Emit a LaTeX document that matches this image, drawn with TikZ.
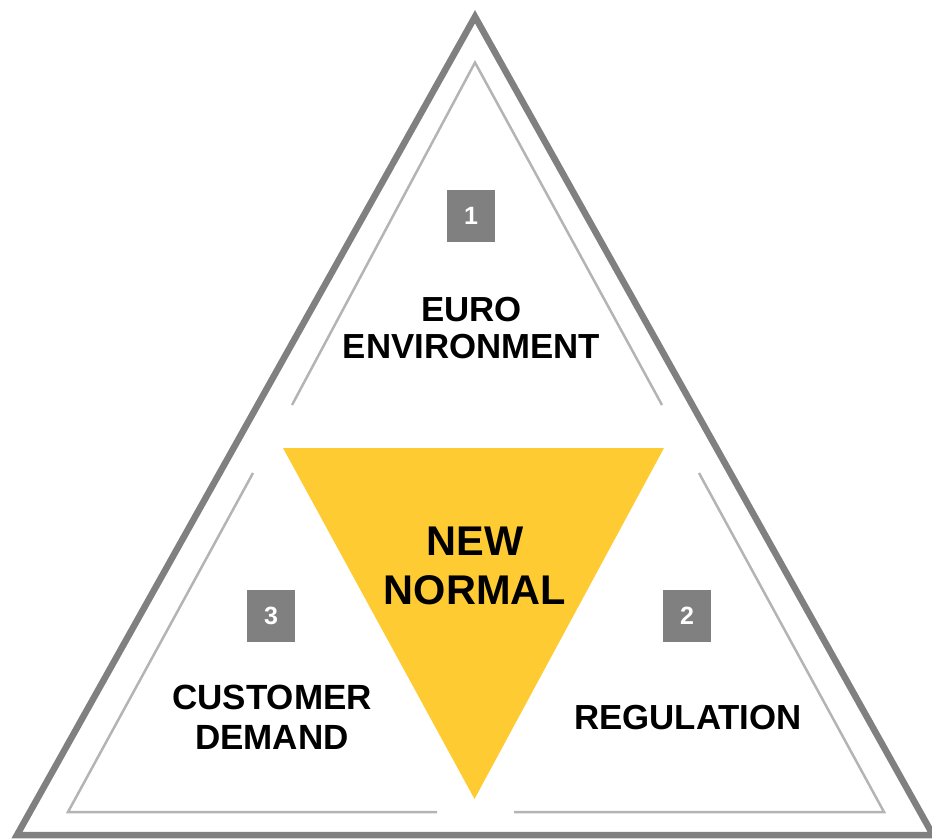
\documentclass[tikz,border=0pt]{standalone}
\usepackage{fontspec}
\setmainfont{Liberation Sans}
\definecolor{outergray}{HTML}{808080}
\definecolor{innergray}{HTML}{B4B4B4}
\definecolor{boxgray}{HTML}{808080}
\definecolor{newyellow}{HTML}{FFCB33}
\begin{document}
\begin{tikzpicture}[x=1pt,y=-1pt,
  outerline/.style={draw=outergray,line width=6.5pt,line join=miter},
  innerline/.style={draw=innergray,line width=2.5pt},
  numbox/.style={fill=boxgray,text=white,minimum width=48pt,minimum height=52pt,inner sep=0pt,font=\bfseries\fontsize{25}{25}\selectfont},
  bigtext/.style={align=center,inner sep=0pt,font=\bfseries\fontsize{34.8}{37.3}\selectfont}]
\useasboundingbox (0,0) rectangle (932,839);
\draw[outerline] (475,16.7) -- (933,835) -- (17,835) -- cycle;
\draw[innerline] (292,405) -- (475,62.5) -- (662,405);
\draw[innerline] (253,473) -- (68,812) -- (437,812);
\draw[innerline] (699,473) -- (884,812) -- (514,812);
\fill[newyellow] (283,448) -- (664,448) -- (474.5,799) -- cycle;
\node[numbox] (n1) at (471,215.5) {1};
\node[numbox] (n3) at (271,615.5) {3};
\node[numbox] (n2) at (687,615.5) {2};
\node[bigtext] (euro) at (471.5,328.3) {EURO\\ENVIRONMENT};
\node[bigtext,font=\bfseries\fontsize{41.5}{48.3}\selectfont] (newnormal) at (475,565.8) {NEW\\NORMAL};
\node[bigtext,font=\bfseries\fontsize{35}{40}\selectfont] (customer) at (272,717.5) {CUSTOMER\\DEMAND};
\node[bigtext] (regulation) at (688,718) {REGULATION};
\end{tikzpicture}
\end{document}
